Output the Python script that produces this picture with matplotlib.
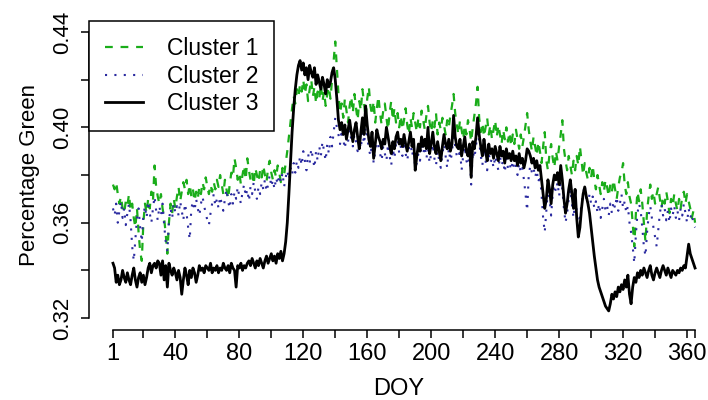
import matplotlib.pyplot as plt
import numpy as np

plt.rcParams['font.family'] = ['Liberation Sans', 'DejaVu Sans']

# daily mean greenness per cluster, in thousandths (DOY 1..365)
cluster1 = [
    376, 374, 377, 372, 368, 371, 366, 364, 369, 367,
    372, 365, 368, 362, 358, 366, 356, 348, 344, 360,
    368, 364, 370, 366, 373, 369, 384, 375, 371, 368,
    372, 366, 362, 355, 347, 360, 368, 364, 370, 366,
    371, 375, 369, 373, 377, 374, 378, 372, 376, 371,
    374, 369, 373, 370, 375, 372, 377, 374, 379, 375,
    372, 376, 373, 377, 374, 378, 375, 380, 376, 372,
    378, 374, 370, 376, 381, 379, 387, 383, 378, 381,
    376, 380, 384, 378, 387, 382, 378, 381, 376, 383,
    380, 377, 382, 379, 384, 380, 377, 383, 386, 381,
    378, 382, 379, 384, 381, 377, 383, 380, 385, 390,
    396, 402, 408, 413, 410, 416, 413, 418, 415, 420,
    414, 418, 411, 416, 420, 413, 417, 410, 415, 412,
    418, 411, 415, 409, 414, 417, 412, 420, 428, 436,
    425, 414, 406, 410, 404, 412, 407, 402, 409, 413,
    406, 414, 408, 403, 411, 407, 416, 410, 404, 412,
    417, 409, 405, 411, 402, 408, 413, 406, 401, 407,
    410, 404, 399, 406, 411, 403, 408, 402, 406, 400,
    405, 399, 403, 408, 401, 397, 404, 400, 406, 402,
    398, 404, 400, 407, 403, 399, 405, 409, 402, 398,
    403, 400, 406, 397, 402, 399, 404, 401, 397, 403,
    400, 405, 409, 414, 406, 401, 397, 403, 399, 395,
    401, 397, 403, 399, 394, 400, 405, 410, 417, 404,
    398, 402, 396, 400, 404, 397, 401, 395, 399, 403,
    396, 401, 397, 393, 399, 395, 400, 394, 398, 392,
    397, 393, 399, 395, 391, 397, 392, 396, 401, 406,
    399, 394, 390, 396, 392, 388, 394, 390, 385, 392,
    398, 386, 382, 389, 393, 387, 383, 390, 386, 392,
    397, 403, 391, 386, 382, 388, 384, 380, 386, 382,
    388, 384, 392, 386, 380, 385, 381, 378, 383, 379,
    384, 378, 374, 380, 376, 372, 377, 373, 378, 375,
    371, 376, 373, 378, 374, 370, 375, 379, 381, 385,
    376, 372, 377, 371, 368, 360, 350, 364, 373, 369,
    374, 368, 360, 352, 365, 371, 376, 370, 373, 368,
    372, 375, 370, 366, 371, 368, 373, 369, 364, 370,
    367, 372, 368, 365, 370, 366, 371, 373, 368, 372,
    369, 366, 362, 365, 360,
]

cluster2 = [
    366, 363, 368, 360, 365, 369, 362, 366, 359, 364,
    368, 361, 350, 344, 353, 362, 366, 358, 352, 363,
    367, 362, 369, 364, 360, 366, 371, 365, 361, 367,
    363, 368, 359, 352, 348, 361, 366, 362, 368, 364,
    367, 363, 369, 365, 361, 368, 364, 358, 353, 366,
    369, 365, 370, 366, 363, 368, 371, 367, 364, 361,
    359, 364, 368, 372, 367, 370, 366, 371, 368, 365,
    370, 374, 369, 366, 372, 368, 373, 370, 375, 371,
    368, 373, 376, 371, 374, 369, 375, 372, 377, 373,
    370, 375, 372, 377, 374, 378, 373, 376, 380, 375,
    378, 374, 379, 376, 380, 377, 381, 375, 379, 382,
    378, 383, 380, 385, 381, 386, 383, 388, 384, 390,
    386, 382, 389, 385, 391, 387, 383, 390, 386, 392,
    388, 394, 390, 386, 393, 389, 396, 392, 398, 404,
    400, 397, 393, 399, 395, 391, 397, 394, 399, 395,
    392, 397, 394, 390, 395, 391, 398, 393, 400, 396,
    391, 388, 394, 385, 390, 396, 392, 389, 386, 392,
    389, 386, 393, 388, 384, 391, 387, 393, 395, 389,
    392, 388, 394, 389, 386, 391, 395, 388, 391, 383,
    385, 389, 386, 393, 389, 392, 387, 391, 385, 389,
    393, 387, 384, 390, 386, 383, 389, 393, 388, 383,
    391, 386, 389, 398, 392, 388, 387, 391, 382, 388,
    392, 386, 384, 389, 376, 390, 387, 392, 398, 394,
    388, 384, 391, 386, 382, 389, 385, 387, 383, 388,
    385, 382, 388, 384, 386, 381, 387, 383, 385, 382,
    386, 382, 384, 380, 385, 381, 383, 378, 372, 365,
    380, 384, 381, 383, 379, 382, 377, 380, 372, 362,
    356, 365, 374, 370, 363, 372, 376, 373, 377, 371,
    379, 374, 366, 360, 364, 370, 374, 368, 362, 369,
    365, 358, 362, 368, 372, 376, 370, 367, 372, 368,
    371, 366, 369, 364, 368, 362, 366, 370, 365, 367,
    363, 368, 364, 369, 366, 371, 365, 368, 372, 366,
    369, 364, 367, 360, 356, 350, 343, 355, 364, 368,
    365, 358, 350, 346, 356, 363, 367, 362, 358, 354,
    350, 357, 364, 368, 363, 366, 361, 365, 360, 366,
    363, 367, 362, 365, 361, 366, 363, 368, 364, 360,
    366, 362, 364, 359, 358,
]

cluster3 = [
    343, 341, 335, 338, 334, 336, 340, 337, 335, 339,
    336, 334, 338, 341, 336, 333, 337, 339, 335, 338,
    334, 337, 341, 343, 339, 342, 343, 341, 344, 343,
    338, 344, 336, 342, 333, 343, 340, 338, 341, 339,
    336, 340, 337, 330, 336, 341, 338, 334, 340, 337,
    341, 339, 335, 338, 342, 340, 341, 339, 342, 341,
    340, 343, 339, 341, 340, 342, 339, 341, 340, 343,
    341, 340, 342, 339, 343, 341, 340, 333, 342, 341,
    343, 340, 342, 341, 343, 344, 342, 345, 343, 341,
    344, 342, 345, 343, 341, 344, 346, 343, 345, 347,
    344, 346, 343, 347, 345, 348, 344, 347, 352, 360,
    372, 385, 398, 408, 416, 422, 426, 428, 424, 427,
    422, 425, 420, 426, 423, 421, 425, 418, 422, 419,
    416, 421, 418, 414, 420, 417, 419, 423, 425, 420,
    412, 403, 399, 402, 397, 401, 395, 399, 403, 398,
    394, 399, 402, 396, 391, 398, 404, 397, 409, 401,
    395, 392, 398, 387, 393, 399, 396, 394, 391, 395,
    393, 400, 396, 392, 389, 394, 391, 396, 398, 393,
    395, 392, 397, 393, 390, 394, 398, 392, 395, 382,
    388, 393, 390, 396, 392, 395, 391, 400, 389, 393,
    398, 392, 389, 394, 390, 386, 392, 397, 393, 391,
    395, 390, 393, 405, 396, 392, 391, 395, 388, 392,
    396, 390, 388, 393, 379, 394, 391, 396, 404, 397,
    392, 388, 395, 390, 386, 393, 389, 391, 387, 392,
    389, 386, 392, 388, 390, 385, 391, 387, 389, 386,
    390, 386, 388, 384, 389, 385, 387, 383, 386, 391,
    390, 388, 385, 387, 383, 386, 382, 384, 378, 372,
    366, 370, 378, 374, 368, 376, 380, 378, 381, 376,
    384, 378, 370, 364, 368, 374, 378, 372, 366, 374,
    362, 354, 358, 366, 372, 375, 371, 368, 364, 358,
    352, 346, 341, 336, 333, 331, 329, 327, 325, 324,
    323, 326, 330, 328, 331, 329, 333, 331, 334, 332,
    336, 333, 338, 330, 326, 333, 337, 335, 339, 337,
    340, 338, 341, 339, 337, 340, 342, 338, 336, 339,
    341, 339, 337, 340, 342, 340, 338, 341, 339, 337,
    340, 339, 338, 340, 339, 341, 340, 342, 341, 346,
    351, 347, 345, 343, 341,
]

labels = ['Cluster 1', 'Cluster 2', 'Cluster 3']
xticks = [1] + list(range(20, 361, 20)) + [365]
xtick_labels = ['1' if t == 1 else (str(t) if t % 40 == 0 else '') for t in xticks]
yticks = [0.32, 0.34, 0.36, 0.38, 0.40, 0.42, 0.44]
ytick_labels = ['0.32', '', '0.36', '', '0.40', '', '0.44']

doy = np.arange(1, 366)
c1 = np.array(cluster1) / 1000
c2 = np.array(cluster2) / 1000
c3 = np.array(cluster3) / 1000

fig = plt.figure(figsize=(7.08, 4.0), dpi=100)
ax = fig.add_axes([89 / 708, 70 / 400, 619 / 708, 309 / 400])

ax.plot(doy, c1, color='#1aad1a', lw=1.6, dashes=(3.5, 3.5), label=labels[0])
ax.plot(doy, c2, color='#2a2aa0', lw=1.5, dashes=(1, 3.5), label=labels[1])
ax.plot(doy, c3, color='black', lw=2.0, label=labels[2])

ax.set_xlim(-14, 373.1)
ax.set_ylim(0.315, 0.4446)

for s in ['top', 'right']:
    ax.spines[s].set_visible(False)
ax.spines['bottom'].set_bounds(1, 365)
ax.spines['left'].set_bounds(0.32, 0.44)
for s in ['bottom', 'left']:
    ax.spines[s].set_linewidth(1.1)

ax.set_xticks(xticks)
ax.set_xticklabels(xtick_labels, fontsize=17)
ax.set_yticks(yticks)
ax.set_yticklabels(ytick_labels, fontsize=16, rotation=90, va='center')
ax.tick_params(axis='both', direction='out', length=5.5, width=1.1)
ax.tick_params(axis='x', pad=4)
ax.tick_params(axis='y', pad=6)

ax.set_xlabel('DOY', fontsize=17, labelpad=9)
ax.set_ylabel('Percentage Green', fontsize=16, labelpad=9)

leg = ax.legend(loc='upper left', bbox_to_anchor=(0, 1), borderaxespad=0,
                fontsize=16.5, fancybox=False, framealpha=1, edgecolor='black',
                handlelength=1.65, handletextpad=1.05, labelspacing=0.2,
                borderpad=0.7)
leg.get_frame().set_linewidth(1.1)

fig.savefig('out.png', dpi=100)
